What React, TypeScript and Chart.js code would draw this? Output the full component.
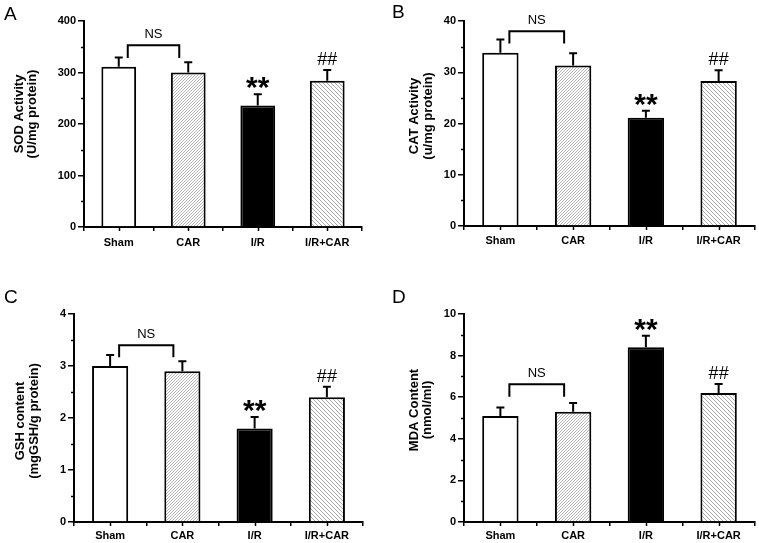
import React, { useEffect, useRef } from "react";
import { Chart, registerables } from "chart.js";

Chart.register(...registerables);

// ---------- data ----------
const categories = ["Sham", "CAR", "I/R", "I/R+CAR"];

const sodMean = [311, 300, 236, 284];
const sodErr = [18, 20, 22, 21];

const catMean = [33.8, 31.3, 21.1, 28.3];
const catErr = [2.6, 2.4, 1.4, 2.1];

const gshMean = [3.0, 2.9, 1.8, 2.4];
const gshErr = [0.21, 0.19, 0.22, 0.2];

const mdaMean = [5.1, 5.3, 8.4, 6.2];
const mdaErr = [0.4, 0.42, 0.56, 0.43];

const sodAxis = { max: 400, step: 100 };
const catAxis = { max: 40, step: 10 };
const gshAxis = { max: 4, step: 1 };
const mdaAxis = { max: 10, step: 2 };

const FONT = "Arial, 'Liberation Sans', Helvetica, sans-serif";

type PanelCfg = {
  letter: string;
  letterPos: [number, number];
  title: [string, string];
  titleX: [number, number];
  titleY: number;
  box: { left: number; top: number; width: number; height: number };
  area: { left: number; right: number; top: number; bottom: number };
  axis: { max: number; step: number };
  means: number[];
  errs: number[];
  bracket: { top: number; leg: number };
  xPad: number;
};

const panels: PanelCfg[] = [
  {
    letter: "A",
    letterPos: [4, 20],
    title: ["SOD Activity", "(U/mg protein)"],
    titleX: [19.5, 32.5],
    titleY: 114,
    box: { left: 0, top: 0, width: 380, height: 270 },
    area: { left: 84, right: 362, top: 21, bottom: 227 },
    axis: sodAxis,
    means: sodMean,
    errs: sodErr,
    bracket: { top: 353, leg: 328 },
    xPad: 5,
  },
  {
    letter: "B",
    letterPos: [12, 18],
    title: ["CAT Activity", "(u/mg protein)"],
    titleX: [34, 48],
    titleY: 116,
    box: { left: 380, top: 0, width: 379, height: 270 },
    area: { left: 84, right: 375, top: 21, bottom: 226 },
    axis: catAxis,
    means: catMean,
    errs: catErr,
    bracket: { top: 38, leg: 35.6 },
    xPad: 4,
  },
  {
    letter: "C",
    letterPos: [4, 33],
    title: ["GSH content", "(mgGSH/g protein)"],
    titleX: [20.5, 34],
    titleY: 151,
    box: { left: 0, top: 270, width: 380, height: 273 },
    area: { left: 74, right: 363, top: 44, bottom: 252 },
    axis: gshAxis,
    means: gshMean,
    errs: gshErr,
    bracket: { top: 3.4, leg: 3.17 },
    xPad: 3,
  },
  {
    letter: "D",
    letterPos: [12, 33],
    title: ["MDA Content", "(nmol/ml)"],
    titleX: [34, 47.5],
    titleY: 140,
    box: { left: 380, top: 270, width: 379, height: 273 },
    area: { left: 84, right: 375, top: 44, bottom: 252 },
    axis: mdaAxis,
    means: mdaMean,
    errs: mdaErr,
    bracket: { top: 6.62, leg: 6.02 },
    xPad: 3,
  },
];

function makePattern(size: number, dir: "/" | "\\", color: string) {
  const c = document.createElement("canvas");
  c.width = size;
  c.height = size;
  const g = c.getContext("2d")!;
  g.fillStyle = "#fff";
  g.fillRect(0, 0, size, size);
  g.strokeStyle = color;
  g.lineWidth = 1;
  g.beginPath();
  for (let k = -1; k <= 1; k++) {
    if (dir === "/") {
      g.moveTo(k * size, size);
      g.lineTo(k * size + size, 0);
    } else {
      g.moveTo(k * size, 0);
      g.lineTo(k * size + size, size);
    }
  }
  g.stroke();
  return g.createPattern(c, "repeat")!;
}

function Panel({ cfg }: { cfg: PanelCfg }) {
  const ref = useRef<HTMLCanvasElement | null>(null);

  useEffect(() => {
    const canvas = ref.current!;
    const patCar = makePattern(3, "/", "#b4b4b4");
    const patIrCar = makePattern(4, "\\", "#a8a8a8");

    const annot = {
      id: "annot",
      afterDatasetsDraw(chart: any) {
        const ctx: CanvasRenderingContext2D = chart.ctx;
        const xs = chart.scales.x;
        const ys = chart.scales.y;
        const area = chart.chartArea;
        ctx.save();
        ctx.strokeStyle = "#000";
        ctx.fillStyle = "#000";

        // error bars (upper)
        ctx.lineWidth = 2;
        cfg.means.forEach((m, i) => {
          const cx = xs.getPixelForValue(i);
          const yb = ys.getPixelForValue(m);
          const yt = ys.getPixelForValue(m + cfg.errs[i]);
          ctx.beginPath();
          ctx.moveTo(cx, yb);
          ctx.lineTo(cx, yt);
          ctx.moveTo(cx - 4, yt);
          ctx.lineTo(cx + 4, yt);
          ctx.stroke();
        });

        // minor y ticks
        ctx.lineWidth = 1.5;
        for (let v = cfg.axis.step / 2; v < cfg.axis.max; v += cfg.axis.step) {
          const py = Math.round(ys.getPixelForValue(v)) + 0.5;
          ctx.beginPath();
          ctx.moveTo(area.left - 3, py);
          ctx.lineTo(area.left, py);
          ctx.stroke();
        }
        // x ticks at category centers
        for (let i = 0; i < categories.length; i++) {
          const px = Math.round(xs.getPixelForValue(i)) + 0.5;
          ctx.beginPath();
          ctx.moveTo(px, area.bottom);
          ctx.lineTo(px, area.bottom + 4);
          ctx.stroke();
        }

        // NS bracket
        const x0 = xs.getPixelForValue(0) + 9;
        const x1 = xs.getPixelForValue(1) - 9;
        const bt = ys.getPixelForValue(cfg.bracket.top);
        const bl = ys.getPixelForValue(cfg.bracket.leg);
        ctx.lineWidth = 2;
        ctx.beginPath();
        ctx.moveTo(x0, bl);
        ctx.lineTo(x0, bt);
        ctx.lineTo(x1, bt);
        ctx.lineTo(x1, bl);
        ctx.stroke();

        ctx.textAlign = "center";
        ctx.textBaseline = "alphabetic";
        ctx.font = `13px ${FONT}`;
        const mNS = ctx.measureText("NS");
        const nsCenter = bt - 12;
        ctx.fillText(
          "NS",
          (x0 + x1) / 2,
          nsCenter - (mNS.actualBoundingBoxDescent - mNS.actualBoundingBoxAscent) / 2
        );

        // ** over I/R
        const irTop = ys.getPixelForValue(cfg.means[2] + cfg.errs[2]);
        ctx.font = `bold 30px ${FONT}`;
        const mS = ctx.measureText("**");
        ctx.fillText("**", xs.getPixelForValue(2), irTop - 5 - mS.actualBoundingBoxDescent);

        // ## over I/R+CAR
        const icTop = ys.getPixelForValue(cfg.means[3] + cfg.errs[3]);
        ctx.font = `18px ${FONT}`;
        const mH = ctx.measureText("##");
        ctx.fillText("##", xs.getPixelForValue(3), icTop - 5 - mH.actualBoundingBoxDescent);

        // y title
        ctx.font = `bold 13px ${FONT}`;
        ctx.textBaseline = "middle";
        cfg.title.forEach((t, k) => {
          ctx.save();
          ctx.translate(cfg.titleX[k], cfg.titleY);
          ctx.rotate(-Math.PI / 2);
          ctx.fillText(t, 0, 0);
          ctx.restore();
        });

        // panel letter
        ctx.font = `19px ${FONT}`;
        ctx.textAlign = "left";
        ctx.textBaseline = "alphabetic";
        ctx.fillText(cfg.letter, cfg.letterPos[0], cfg.letterPos[1]);
        ctx.restore();
      },
    };

    const chart = new Chart(canvas, {
      type: "bar",
      data: {
        labels: categories,
        datasets: [
          {
            data: cfg.means,
            backgroundColor: ["#ffffff", patCar as any, "#000000", patIrCar as any],
            borderColor: "#000",
            borderWidth: 2,
            borderSkipped: "start",
            barPercentage: 0.5,
            categoryPercentage: 1,
          },
        ],
      },
      options: {
        responsive: false,
        animation: false,
        devicePixelRatio: 1,
        layout: {
          padding: {
            left: 0,
            top: cfg.area.top,
            right: cfg.box.width - cfg.area.right,
            bottom: 0,
          },
        },
        plugins: {
          legend: { display: false },
          tooltip: { enabled: false },
          title: { display: false },
        },
        scales: {
          x: {
            offset: true,
            grid: {
              display: true,
              drawOnChartArea: false,
              drawTicks: true,
              tickLength: 4,
              color: "#000",
              lineWidth: 1.5,
              offset: true,
            },
            border: { display: true, color: "#000", width: 2 },
            ticks: {
              font: { family: FONT, size: 11, weight: "bold" },
              color: "#000",
              padding: cfg.xPad,
              maxRotation: 0,
              autoSkip: false,
            },
            afterFit: (s: any) => {
              s.height = cfg.box.height - cfg.area.bottom;
            },
          },
          y: {
            min: 0,
            max: cfg.axis.max,
            ticks: {
              stepSize: cfg.axis.step,
              font: { family: FONT, size: 11, weight: "bold" },
              color: "#000",
              padding: 2,
            },
            grid: {
              display: true,
              drawOnChartArea: false,
              drawTicks: true,
              tickLength: 6,
              color: "#000",
              lineWidth: 1.5,
            },
            border: { display: true, color: "#000", width: 2 },
            afterFit: (s: any) => {
              s.width = cfg.area.left;
            },
          },
        },
      } as any,
      plugins: [annot],
    });

    return () => chart.destroy();
  }, [cfg]);

  return (
    <canvas
      ref={ref}
      width={cfg.box.width}
      height={cfg.box.height}
      style={{
        position: "absolute",
        left: cfg.box.left,
        top: cfg.box.top,
        width: cfg.box.width,
        height: cfg.box.height,
        display: "block",
      }}
    />
  );
}

export default function App() {
  return (
    <div
      style={{
        position: "absolute",
        left: 0,
        top: 0,
        width: 759,
        height: 543,
        background: "#fff",
        overflow: "hidden",
      }}
    >
      {panels.map((p) => (
        <Panel key={p.letter} cfg={p} />
      ))}
    </div>
  );
}
